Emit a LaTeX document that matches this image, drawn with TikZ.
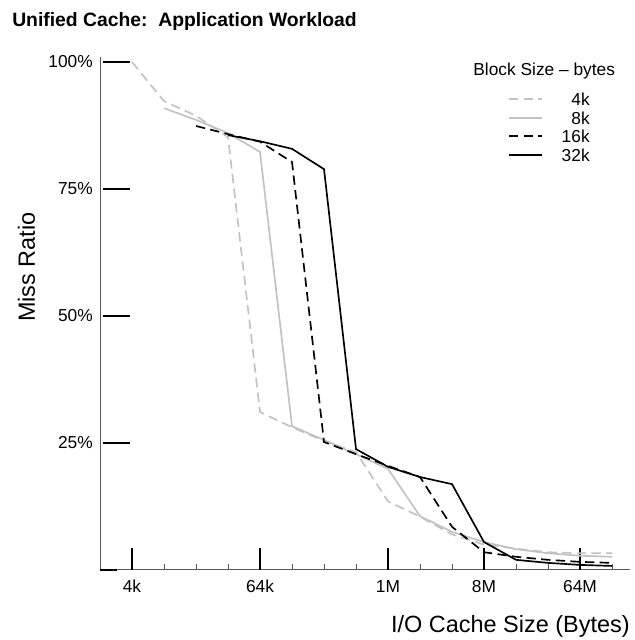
\documentclass[tikz,border=0pt]{standalone}
\usepackage{fontspec}
\setmainfont{Liberation Sans}
\usetikzlibrary{positioning}

\definecolor{curvegray}{gray}{0.76}
\definecolor{axisgray}{gray}{0.35}

\tikzset{
blk4/.style={curvegray,line width=1.25pt,dash pattern=on 7pt off 4pt},
blk8/.style={curvegray,line width=1.25pt},
blk16/.style={black,line width=1.25pt,dash pattern=on 7pt off 4pt},
blk32/.style={black,line width=1.25pt},
ticklab/.style={font=\fontsize{13}{15}\selectfont},
bigtext/.style={font=\fontsize{17.6}{20}\selectfont}
}

\begin{document}
\begin{tikzpicture}[x=24pt,y=3.81pt]
\useasboundingbox (7.875,-13.78) rectangle (27.6875,112.2);

% axes
\draw[axisgray,line width=0.75pt] (11,101) -- (11,0) -- (27.56,0);
\draw[line width=1.5pt] (11,0) -- (11.53,0);

\foreach \p in {25,50,75,100}{
\draw[line width=1.5pt] (11.09,\p) -- (11.94,\p);
\node (y\p) at (10.78,\p) [left,inner sep=0pt,ticklab] {\p\%};
}

\foreach \k/\lab in {12/4k,16/64k,20/1M,23/8M,26/64M}{
\draw[line width=1.5pt] (\k,0) -- ++(0,4.33);
\node (x\k) at (\k,-3.25) [ticklab] {\lab};
}
\foreach \k in {13,14,15,17,18,19,21,22,24,25,27}
\draw[axisgray,line width=0.75pt] (\k,0) -- ++(0,1.2);

% curves
\draw[blk4] plot coordinates {(12,100) (13,92.3) (14,89.4) (15,85.2) (16,31.1) (17,28.1)
  (18,25.4) (19,23.2) (20,13.5) (21,10.5) (22,7.0) (23,5.0) (24,4.2) (25,3.5) (26,3.3) (27,3.3)};
\draw[blk8] plot coordinates {(13,90.9) (14,88.6) (15,86.0) (16,82.3) (17,28.3) (18,25.6)
  (19,22.8) (20,19.9) (21,10.6) (22,7.5) (23,5.5) (24,4.1) (25,3.3) (26,2.8) (27,2.6)};
\draw[blk16] plot coordinates {(14,87.4) (15,85.8) (16,84.3) (17,80.3) (18,25.2) (19,22.8)
  (20,20.5) (21,18.3) (22,8.5) (23,3.5) (24,2.6) (25,2.0) (26,1.6) (27,1.4)};
\draw[blk32] plot coordinates {(15,85.6) (16,84.4) (17,82.9) (18,78.9) (19,23.8) (20,20.3)
  (21,18.3) (22,16.9) (23,5.5) (24,2.0) (25,1.4) (26,1.0) (27,0.8)};

% legend
\node (lgtitle) at (22.66,98.2) [anchor=west,inner sep=0pt,ticklab] {Block Size -- bytes};
\foreach \s/\lab/\p in {blk4/4k/92.7,blk8/8k/89.0,blk16/16k/85.4,blk32/32k/81.7}{
\coordinate (s\lab) at (23.78,\p);
\coordinate (e\lab) at (24.81,\p);
\draw[\s] (s\lab) -- (e\lab);
\node (l\lab) at (26.31,\p) [anchor=east,inner sep=0pt,ticklab] {\lab};
}

% titles
\node (title) at (8.25,107.9) [anchor=west,inner sep=0pt,font={\fontsize{14.5}{17}\selectfont\bfseries}] {Unified Cache:\ \ Application Workload};
\node (ytitle) at (8.7,59.6) [rotate=90,inner sep=0pt,bigtext] {Miss Ratio};
\node (xtitle) at (27.56,-11.2) [anchor=east,inner sep=0pt,bigtext] {I/O Cache Size (Bytes)};
\end{tikzpicture}
\end{document}
